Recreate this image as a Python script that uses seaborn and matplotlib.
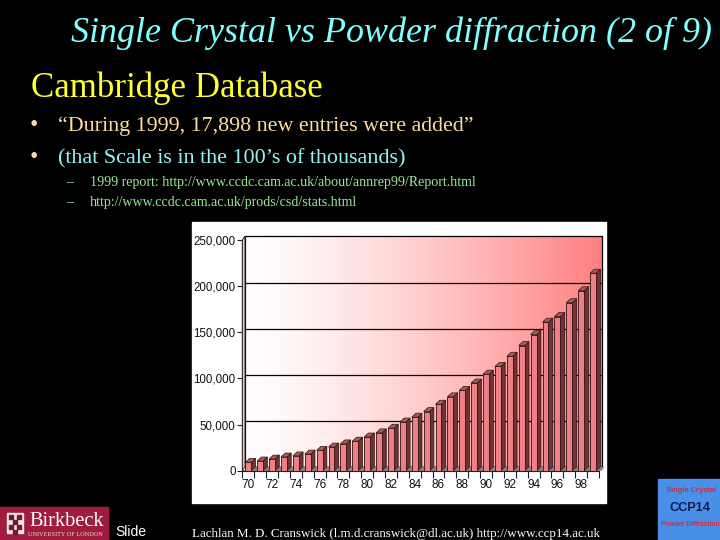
import numpy as np
import matplotlib
matplotlib.use("Agg")
import matplotlib.pyplot as plt
from matplotlib.patches import Polygon, Rectangle
import seaborn as sns

# values
YEARS = [str(y) for y in range(70, 100)]
ENTRIES = [9000, 10500, 12600, 14800, 16000, 18000, 22000, 25600, 29000, 32000,
           36500, 41000, 46000, 52700, 58000, 64000, 72000, 80000, 87000, 95000,
           104600, 113000, 124000, 135600, 147500, 161000, 167000, 182000, 195000, 214000]
Y_TICKS = [0, 50000, 100000, 150000, 200000, 250000]
TITLE = "Single Crystal vs Powder diffraction (2 of 9)"
HEADING = "Cambridge Database"
BULLETS = ["\u201cDuring 1999, 17,898 new entries were added\u201d",
           "(that Scale is in the 100\u2019s of thousands)"]
SUB_BULLETS = ["1999 report: http://www.ccdc.cam.ac.uk/about/annrep99/Report.html",
               "http://www.ccdc.cam.ac.uk/prods/csd/stats.html"]
FOOTER = "Lachlan M. D. Cranswick (l.m.d.cranswick@dl.ac.uk) http://www.ccp14.ac.uk"

SERIF = "Liberation Serif"
SANS = "Liberation Sans"

sns.set_style("white")

fig = plt.figure(figsize=(7.2, 5.4), dpi=100, facecolor="black")

# background layer, in pixels of the slide
bg = fig.add_axes([0, 0, 1, 1])
bg.set_xlim(0, 720)
bg.set_ylim(540, 0)
bg.axis("off")

# slide text
bg.text(71, 42, TITLE, family=SERIF, style="italic", fontsize=25.9, color="#80FFFF")
bg.text(31, 97, HEADING, family=SERIF, fontsize=25.1, color="#FFFF33")
bg.text(30, 131, "\u2022", family=SERIF, fontsize=17, color="#FFD9A0")
bg.text(58, 131, BULLETS[0], family=SERIF, fontsize=15.8, color="#FFD9A0")
bg.text(30, 163, "\u2022", family=SERIF, fontsize=17, color="#FFD9A0")
bg.text(58, 163, BULLETS[1], family=SERIF, fontsize=15.9, color="#99F2F2")
for y, line in zip([186, 206], SUB_BULLETS):
    bg.text(66, y, "\u2013", family=SERIF, fontsize=10.1, color="#99E699")
    bg.text(90, y, line, family=SERIF, fontsize=10.1, color="#99E699")

# white panel behind the chart
bg.add_patch(Rectangle((192, 222), 414, 281, color="white", zorder=0))

# back wall gradient
grad = np.linspace(0, 1, 256) ** 1.3
wall = np.ones((1, 256, 3))
wall[0, :, 1] = 1 - 0.5 * grad
wall[0, :, 2] = 1 - 0.5 * grad
bg.imshow(wall, extent=(245, 602, 467, 236), aspect="auto", zorder=1)
bg.set_xlim(0, 720)
bg.set_ylim(540, 0)
bg.add_patch(Rectangle((245, 236), 357, 231, fill=False, ec="black", lw=0.9, zorder=2))
bg.add_patch(Polygon([(242.3, 240), (245, 236), (245, 467), (242.3, 470.7)],
                     fc="#E8C8C8", ec="#303030", lw=0.7, zorder=2))
bg.add_patch(Polygon([(242.3, 470.7), (245, 467), (602, 467), (599, 470.7)],
                     fc="#FFFFFF", ec="#303030", lw=0.5, zorder=2))

# logos
bg.add_patch(Rectangle((0, 507), 108, 33, color="#A01C3C", zorder=1))
bg.add_patch(Rectangle((7, 513), 16, 20, color="#F4E4E8", zorder=2))
for cx, cy in [(9, 515), (17, 515), (13, 520), (9, 525), (17, 525), (13, 530)]:
    bg.add_patch(Rectangle((cx, cy), 4, 4, color="#70182C", zorder=3))
bg.text(29, 526, "Birkbeck", family=SERIF, fontsize=14.7, color="white", zorder=3)
bg.text(28, 536, "UNIVERSITY OF LONDON", family=SERIF, fontsize=4.5, color="#F0D8DC", zorder=3)
bg.text(115, 536, "Slide", family=SANS, fontsize=10, color="white")
bg.text(192, 536.5, FOOTER, family=SERIF, fontsize=9.4, color="white")
bg.add_patch(Rectangle((658, 479), 62, 61, color="#4A90E8", zorder=1))
bg.text(691, 490, "Single Crystal", family=SANS, weight="bold", fontsize=5.4,
        color="#D8283C", ha="center", va="center", zorder=3)
bg.text(690, 508, "CCP14", family=SANS, weight="bold", fontsize=9.2,
        color="#0C1C50", ha="center", va="center", zorder=3)
bg.text(690, 525, "Powder Diffraction", family=SANS, weight="bold", fontsize=4.7,
        color="#D8283C", ha="center", va="center", zorder=3)

# chart axes, front plane of the pseudo 3D box
ax = fig.add_axes([242.3 / 720, 1 - 470.7 / 540, (599 - 242.3) / 720, (470.7 - 240) / 540])
ax.patch.set_alpha(0)

sns.barplot(x=YEARS, y=ENTRIES, color="#EE7F85", saturation=1, width=0.5,
            edgecolor="#301010", linewidth=0.6, ax=ax, zorder=5)
ax.set_xlim(-0.5, len(YEARS) - 0.5)
ax.set_ylim(0, 250000)

# depth of the 3D look in data units
DX = 4.3 / 11.89
DY = 4.0 / 230.7 * 250000

# grid on the back wall
for v in Y_TICKS[1:-1]:
    ax.plot([-0.25, len(YEARS) - 0.3], [v + 3800, v + 3800], color="black", lw=0.9,
            clip_on=False, zorder=1)

# side and top faces taken from the bars themselves
for bar in ax.patches:
    x0 = bar.get_x()
    x1 = x0 + bar.get_width()
    h = bar.get_height()
    ax.add_patch(Polygon([(x1, 0), (x1 + 0.48, 0), (x1 + 0.48 + DX * 0.6, DY), (x1 + DX, DY)],
                         fc="#8A8080", ec="none", zorder=3, clip_on=False))
    ax.add_patch(Polygon([(x1, 0), (x1 + DX, DY), (x1 + DX, h + DY), (x1, h)],
                         fc="#6E3434", ec="#301010", lw=0.5, zorder=4, clip_on=False))
    ax.add_patch(Polygon([(x0, h), (x0 + DX, h + DY), (x1 + DX, h + DY), (x1, h)],
                         fc="#A06060", ec="#301010", lw=0.5, zorder=4, clip_on=False))

ax.set_yticks(Y_TICKS)
ax.set_yticklabels([f"{v:,}" for v in Y_TICKS], family=SANS, fontsize=8.3, color="#101010")
ax.set_xticks(range(0, len(YEARS), 2))
ax.set_xticklabels(YEARS[::2], family=SANS, fontsize=8.5, color="#101010")
ax.set_xticks(np.arange(-0.5, len(YEARS)), minor=True)
ax.tick_params(axis="x", which="major", length=0, pad=6, bottom=True)
ax.tick_params(axis="x", which="minor", length=5, width=0.8, color="#202020", bottom=True)
ax.tick_params(axis="y", which="major", length=3.3, width=0.8, color="#202020", pad=1.5, left=True)
ax.set_xlabel("")
ax.set_ylabel("")
sns.despine(ax=ax, top=True, right=True)
ax.spines["left"].set_linewidth(0.6)
ax.spines["left"].set_color("#303030")
ax.spines["bottom"].set_linewidth(0.8)
ax.spines["bottom"].set_color("#202020")

fig.savefig("out.png", dpi=100, facecolor="black")
